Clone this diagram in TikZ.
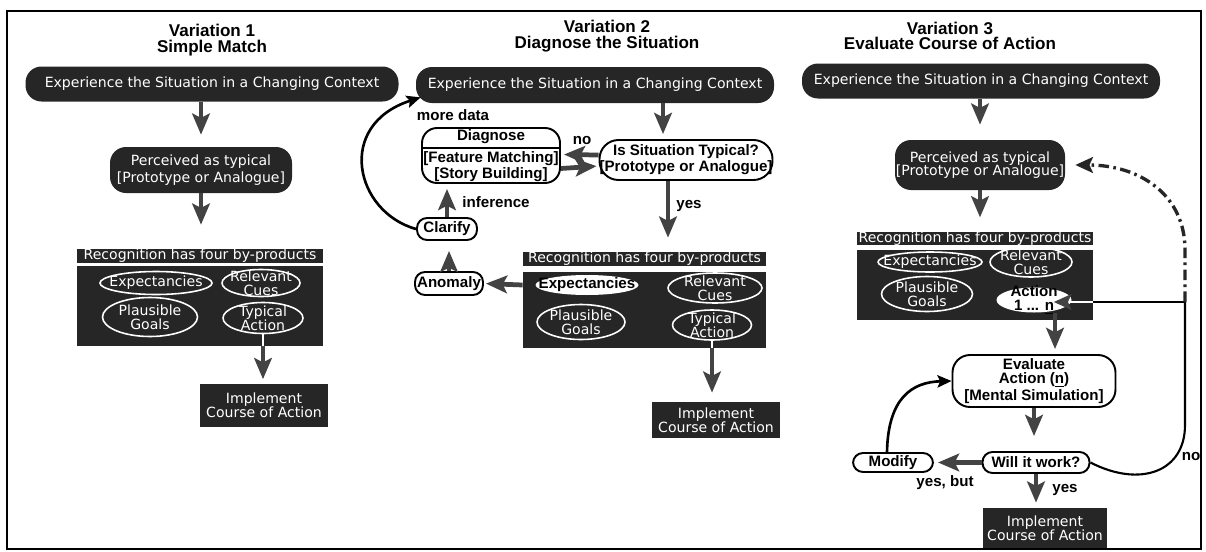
\documentclass[tikz,border=0pt]{standalone}
\usepackage{fontspec}
\setmainfont{DejaVu Sans}
\newfontfamily\boldfam{Liberation Sans}
\usetikzlibrary{calc,arrows.meta,shapes.geometric}
\definecolor{ink}{HTML}{262626}
\definecolor{flowgray}{HTML}{434343}
\newcommand{\fnt}{\fontsize{8}{7.8}\selectfont}
\newcommand{\bfnt}{\boldfam\fontsize{8.6}{8}\selectfont\bfseries}
\newcommand{\tfnt}{\boldfam\fontsize{9.7}{9}\selectfont\bfseries}
\tikzset{
  sz/.style 2 args={minimum width=#1*0.02cm, minimum height=#2*0.02cm},
  pill/.style={fill=ink, text=white, font=\fnt, align=center, rounded corners=0.32cm, inner sep=0pt},
  darkbox/.style={fill=ink, text=white, font=\fnt, align=center, inner sep=0pt},
  ovtxt/.style={text=white, font=\fnt, align=center, inner sep=0pt},
  wovtxt/.style={text=black, font=\bfnt, align=center, inner sep=0pt},
  oval/.style n args={3}{ellipse, draw=white, line width=0.9pt, inner sep=0pt, sz={#1}{#2}, label={[ovtxt]center:#3}},
  woval/.style n args={3}{ellipse, fill=white, inner sep=0pt, sz={#1}{#2}, label={[wovtxt]center:#3}},
  wbox/.style={draw=black, fill=white, line width=1.1pt, font=\bfnt, align=center, rounded corners=0.3cm, inner sep=0pt},
  wpill/.style={draw=black, fill=white, line width=1.1pt, font=\bfnt, rounded corners=0.2cm, inner sep=0pt},
  flow/.style={draw=flowgray, line width=2.7pt, -{Stealth[length=12pt,width=10pt,inset=2.5pt]}},
  loopline/.style={draw=black, line width=1.5pt, -{Stealth[length=8pt,width=7pt,inset=1.5pt]}},
  noline/.style={draw=black, line width=1.2pt},
  dashln/.style={draw=black!85, line width=1.9pt, dash pattern=on 6pt off 2.5pt on 1.5pt off 2.5pt},
  lbl/.style={font=\bfnt, inner sep=0pt},
  ttl/.style={font=\tfnt, align=center, inner sep=0pt},
}
\begin{document}
\begin{tikzpicture}[x=0.02cm, y=-0.02cm]
  \useasboundingbox (0,0) rectangle (1206,551);
  \draw[line width=1.2pt] (7,11) rectangle (1201,549);

  % Variation 1
  \node[ttl] (ttl1) at (212,40) {Variation 1\\Simple Match};
  \node[pill, sz={373}{35}] (exp1) at (212,84) {Experience the Situation in a Changing Context};
  \node[pill, sz={182}{46}, font=\fontsize{8}{9.6}\selectfont] (perc1) at (201,170) {Perceived as typical\\{}[Prototype or Analogue]};
  \node[darkbox, sz={246}{14}] (rh1) at (200,256) {Recognition has four by-products};
  \node[darkbox, sz={246}{80}] (rb1) at (200,306) {};
  \node[oval={112}{23}{Expectancies}] (ex1) at (156,283) {};
  \node[oval={78}{27}{Relevant\\Cues}] (rc1) at (261,283) {};
  \node[oval={95}{39}{Plausible\\Goals}] (pg1) at (150,317) {};
  \node[oval={80}{31}{Typical\\Action}] (ta1) at (263,318) {};
  \node[darkbox, sz={128}{43}] (im1) at (264,405) {Implement\\Course of Action};

  \draw[flow, shorten >=0.24cm] (exp1.south -| perc1) -- (perc1.north);
  \draw[flow, shorten >=0.48cm] (perc1.south) -- (perc1.south |- rh1.north);
  \draw[white, line width=1.6pt] (ta1.south) -- (ta1.south |- rb1.south);
  \draw[flow, shorten >=0.08cm] (ta1.south |- rb1.south) -- (ta1.south |- im1.north);

  % Variation 2
  \node[ttl] (ttl2) at (607,36) {Variation 2\\Diagnose the Situation};
  \node[pill, sz={358}{36}] (exp2) at (595,85) {Experience the Situation in a Changing Context};
  \node[wbox, sz={173}{40}, rounded corners=0.38cm] (typ2) at (686,160) {Is Situation Typical?\\{}[Prototype or Analogue]};
  \node[wbox, sz={138}{55}] (diag2) at (491,155.5) {Diagnose\\[3.5pt]{}[Feature Matching]\\{}[Story Building]};
  \draw[noline] ($(diag2.west)+(0,-7.5)$) -- ($(diag2.east)+(0,-7.5)$);
  \node[wpill, sz={60}{22}] (clar2) at (447,229) {Clarify};
  \node[wpill, sz={68}{23}] (anom2) at (449,283.5) {Anomaly};
  \node[darkbox, sz={243}{14}] (rh2) at (644.5,259) {Recognition has four by-products};
  \node[darkbox, sz={243}{76}] (rb2) at (644.5,309.5) {};
  \node[woval={103}{20}{Expectancies}] (ex2) at (587,285) {};
  \node[oval={94}{30}{Relevant\\Cues}] (rc2) at (715,288) {};
  \node[oval={88}{35}{Plausible\\Goals}] (pg2) at (581,322) {};
  \node[oval={79}{30}{Typical\\Action}] (ta2) at (712,325) {};
  \node[darkbox, sz={128}{36}] (im2) at (716,420) {Implement\\Course of Action};
  \node[lbl] (no2) at (582,141) {no};
  \node[lbl] (yes2l) at (689,206) {yes};
  \node[lbl] (more2) at (453,115) {more data};
  \node[lbl] (inf2) at (496,202) {inference};

  \coordinate (down2) at ($(typ2.north)+(-23,0)$);
  \coordinate (yes2) at ($(typ2.south)+(-18,0)$);
  \draw[flow, shorten >=0.1cm] (down2 |- exp2.south) -- (down2);
  \draw[flow, shorten >=0.28cm] (yes2) -- (yes2 |- rh2.north);
  \draw[flow, shorten >=0.06cm] ([yshift=0.1cm]typ2.west) -- ([yshift=0.02cm]diag2.east);
  \draw[flow, shorten >=0.04cm] ([yshift=-0.26cm]diag2.east) -- ([yshift=-0.12cm]typ2.west);
  \draw[flow, shorten >=0.04cm] (rb2.west |- ex2) -- (anom2.east);
  \draw[flow, shorten >=0.2cm] (anom2.north) -- (anom2.north |- clar2.south);
  \draw[flow, shorten >=0.1cm] (clar2.north) -- (clar2.north |- diag2.south);
  \draw[loopline] (clar2.west) .. controls (355,212) and (335,125) .. ([xshift=0.1cm,yshift=0.12cm]exp2.south west);
  \draw[white, line width=1.6pt] (ta2.south) -- (ta2.south |- rb2.south);
  \draw[flow, shorten >=0.18cm] (ta2.south |- rb2.south) -- (ta2.south |- im2.north);

  % Variation 3
  \node[ttl] (ttl3) at (950,36) {Variation 3\\Evaluate Course of Action};
  \node[pill, sz={358}{35}] (exp3) at (981,81) {Experience the Situation in a Changing Context};
  \node[pill, sz={170}{50}] (perc3) at (980,165) {Perceived as typical\\{}[Prototype or Analogue]};
  \node[darkbox, sz={236}{13}] (rh3) at (975,238.5) {Recognition has four by-products};
  \node[darkbox, sz={236}{70}] (rb3) at (975,285) {};
  \node[oval={104}{20}{Expectancies}] (ex3) at (930,262) {};
  \node[oval={82}{30}{Relevant\\Cues}] (rc3) at (1031,262) {};
  \node[oval={91}{35}{Plausible\\Goals}] (pg3) at (927,294) {};
  \node[woval={75}{25}{Action\\1 ... \underline{n}}] (act3) at (1034,300) {};
  \node[wbox, sz={163}{52}, rounded corners=0.35cm] (eval3) at (1034,381) {Evaluate\\Action (\underline{n})\\{}[Mental Simulation]};
  \node[wpill, sz={107}{21}] (will3) at (1036,462.5) {Will it work?};
  \node[wpill, sz={80}{19}] (mod3) at (893,462.5) {Modify};
  \node[darkbox, sz={124}{40}] (im3) at (1045,528) {Implement\\Course of Action};
  \node[lbl] (yb3) at (945,483) {yes, but};
  \node[lbl] (yes3l) at (1065,490) {yes};
  \node[lbl] (no3) at (1191,456) {no};

  \coordinate (act3dn) at ($(act3.south)+(21,0)$);
  \coordinate (j3) at (1185,302);
  \coordinate (acttip) at ($(act3.east)+(-18,2)$);
  \draw[flow, shorten >=0.3cm] (exp3.south -| perc3) -- (perc3.north);
  \draw[flow, shorten >=0.28cm] (perc3.south) -- (perc3.south |- rh3.north);
  \draw[flow, shorten >=0.1cm] (act3dn) -- (act3dn |- eval3.north);
  \draw[flow, shorten >=0.3cm] (eval3.south) -- (eval3.south |- will3.north);
  \draw[flow, shorten >=0.08cm] (will3.west) -- (mod3.east);
  \draw[flow, shorten >=0.1cm] (will3.south) -- (will3.south |- im3.north);
  \draw[loopline] ([xshift=-0.12cm]mod3.north) .. controls (888,398) and (912,382) .. (eval3.west);
  \draw[noline] (will3.east) .. controls (1140,488) and (1185,472) .. (1185,425) -- (j3);
  \draw[noline] (j3) -- (rb3.east |- j3);
  \draw[white, line width=1.3pt, -{Stealth[length=10pt,width=9pt,inset=2pt,color=flowgray]}] (rb3.east |- j3) -- (acttip);
  \draw[dashln, -{Stealth[length=10pt,width=9pt,inset=2pt]}, shorten >=0.2cm] (j3) -- (1185,250) .. controls (1185,195) and (1140,165) .. (perc3.east);
\end{tikzpicture}
\end{document}
